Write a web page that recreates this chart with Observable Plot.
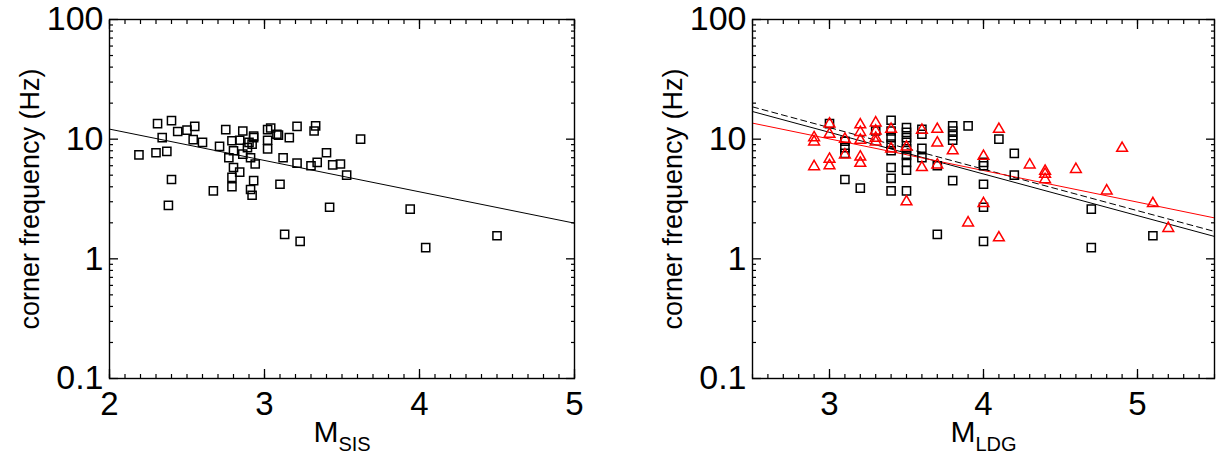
<!DOCTYPE html>
<html><head><meta charset="utf-8">
<script src="https://cdn.jsdelivr.net/npm/d3@7"></script>
<script src="https://cdn.jsdelivr.net/npm/@observablehq/plot@0.6"></script>
<style>
body{margin:0;background:#fff;}
#wrap{display:flex;width:1226px;height:463px;}
</style></head><body><div id="wrap"></div>
<script>
// Left panel: magnitude M_SIS vs corner frequency (Hz)
const sisM = [2.19,2.30,2.31,2.34,2.37,2.40,2.40,2.38,2.44,2.50,2.54,2.55,2.60,2.67,2.71,2.75,2.77,2.79,2.79,2.79,2.80,2.80,2.84,2.84,2.86,2.86,2.89,2.90,2.91,2.91,2.92,2.92,2.93,2.93,2.93,2.94,3.02,3.02,3.02,3.04,3.08,3.09,3.10,3.12,3.13,3.16,3.21,3.21,3.23,3.30,3.32,3.33,3.34,3.40,3.42,3.44,3.49,3.53,3.62,3.94,4.04,4.50];
const sisF = [7.4,7.7,13.5,10.3,7.9,14.3,4.6,2.8,11.6,11.9,9.9,12.8,9.4,3.7,8.7,12.0,7.0,9.7,4.8,4.0,8.0,5.8,9.8,5.3,11.7,7.5,8.5,9.4,7.0,3.8,9.1,3.4,10.3,4.5,10.6,6.2,12.0,9.8,8.3,12.4,11.0,10.8,4.2,7.0,1.6,10.3,12.8,6.3,1.4,6.0,11.7,12.9,6.4,7.7,2.7,6.1,6.2,5.0,10.0,2.6,1.24,1.56];

// Right panel, black squares: M_LDG vs corner frequency
const ldgM = [3.0,3.1,3.1,3.1,3.1,3.2,3.3,3.4,3.4,3.4,3.4,3.4,3.4,3.4,3.4,3.5,3.5,3.5,3.5,3.5,3.5,3.5,3.5,3.5,3.6,3.6,3.6,3.6,3.7,3.7,3.8,3.8,3.8,3.8,3.8,3.9,4.0,4.0,4.0,4.0,4.0,4.1,4.2,4.2,4.7,4.7,5.1];
const ldgF = [13.5,9.6,8.5,7.6,4.6,3.9,11.7,14.4,11.7,10.3,9.1,8.0,5.8,4.7,3.7,12.5,11.4,10.3,9.4,8.3,7.3,6.4,5.5,3.7,12.1,11.0,8.4,7.0,6.0,1.6,12.9,11.7,10.7,9.8,4.5,12.9,6.4,6.0,4.2,2.7,1.4,10.0,7.6,5.0,2.6,1.24,1.56];

// Right panel, red triangles
const redM = [2.9,2.9,2.9,3.0,3.0,3.0,3.0,3.1,3.1,3.2,3.2,3.2,3.2,3.2,3.3,3.3,3.3,3.3,3.4,3.4,3.5,3.5,3.6,3.6,3.7,3.7,3.7,3.8,3.9,4.0,4.0,4.1,4.1,4.3,4.4,4.4,4.4,4.6,4.8,4.9,5.1,5.2];
const redF = [10.3,9.5,5.9,13.4,11.0,6.8,6.0,10.0,7.4,13.2,11.4,9.8,7.1,6.3,13.7,11.7,10.2,9.5,12.1,8.3,8.6,3.0,11.9,5.8,12.1,9.3,6.1,8.0,2.0,7.2,2.9,12.1,1.5,6.1,5.4,5.1,4.6,5.6,3.7,8.4,2.9,1.8];

// Fit lines: log10(f) = a + b*M
const fitSIS = {a: 1.608, b: -0.262};
const fitLDGsolid = {a: 2.101, b: -0.348};
const fitLDGdashed = {a: 2.1375, b: -0.347};
const fitRed = {a: 1.794, b: -0.264};

// Axes
const yTicks = [0.1, 1, 10, 100];
const yTickLabels = ["0.1", "1", "10", "100"];
const yMinor = [0.1,1,10].flatMap(d => [2,3,4,5,6,7,8,9].map(k => +(d*k).toPrecision(3)));
const xTicksLeft = [2, 3, 4, 5];
const xTicksRight = [3, 4, 5];
const xDomainLeft = [2, 5];
const xDomainRight = [2.5, 5.5];

const FONT = "'Liberation Sans', Arial, Helvetica, sans-serif";

function minorX(domain) {
  const out = [];
  for (let i = Math.round(domain[0]*10); i <= Math.round(domain[1]*10); i++) out.push(i/10);
  return out;
}
function rows(M, F) { return M.map((m, i) => ({m, f: F[i]})); }
function fitRows(fit, domain) { return domain.map(m => ({m, f: Math.pow(10, fit.a + fit.b*m)})); }

function panel({xDomain, xMajor, sub, subWidth, ml, mr, extra}) {
  const mW = 0.833 * 30;
  const split = (mW - subWidth) / 2;
  return Plot.plot({
    width: 613, height: 463,
    marginLeft: ml, marginRight: mr, marginTop: 19, marginBottom: 85,
    style: {fontFamily: FONT, fontSize: "24px", color: "black", background: "white", overflow: "visible"},
    x: {domain: xDomain},
    y: {type: "log", domain: [0.1, 100]},
    marks: [
      ...extra,
      Plot.frame({stroke: "black", strokeWidth: 1.4}),
      // inward ticks
      Plot.axisX(xMajor, {anchor: "bottom", tickSize: -9, fill: "none", label: null, strokeWidth: 1.3}),
      Plot.axisX(minorX(xDomain), {anchor: "bottom", tickSize: -4, fill: "none", label: null, strokeWidth: 1.2}),
      Plot.axisX(xMajor, {anchor: "top", tickSize: -9, fill: "none", label: null, strokeWidth: 1.3}),
      Plot.axisX(minorX(xDomain), {anchor: "top", tickSize: -4, fill: "none", label: null, strokeWidth: 1.2}),
      Plot.axisY(yTicks, {anchor: "left", tickSize: -9, fill: "none", label: null, strokeWidth: 1.3}),
      Plot.axisY(yMinor, {anchor: "left", tickSize: -4, fill: "none", label: null, strokeWidth: 1.2}),
      Plot.axisY(yTicks, {anchor: "right", tickSize: -9, fill: "none", label: null, strokeWidth: 1.3}),
      Plot.axisY(yMinor, {anchor: "right", tickSize: -4, fill: "none", label: null, strokeWidth: 1.2}),
      // tick labels
      Plot.axisX(xMajor, {anchor: "bottom", tickSize: 0, tickPadding: 13, label: null, fontSize: 33, tickFormat: d => String(d)}),
      Plot.axisY(yTicks, {anchor: "left", tickSize: 0, tickPadding: 6, label: null, fontSize: 34,
        tickFormat: d => yTickLabels[yTicks.indexOf(d)]}),
      // axis titles
      Plot.text(["corner frequency (Hz)"], {frameAnchor: "left", textAnchor: "middle", rotate: -90, dx: -79, fontSize: 27, fill: "black"}),
      Plot.text(["M"], {frameAnchor: "bottom", textAnchor: "end", dx: split, dy: 63, fontSize: 30, fill: "black"}),
      Plot.text([sub], {frameAnchor: "bottom", textAnchor: "start", dx: split, dy: 72, fontSize: 20, fill: "black"})
    ]
  });
}

const left = panel({
  xDomain: xDomainLeft, xMajor: xTicksLeft, sub: "SIS", subWidth: 1.611 * 20, ml: 109, mr: 39,
  extra: [
    Plot.line(fitRows(fitSIS, xDomainLeft), {x: "m", y: "f", stroke: "black", strokeWidth: 1}),
    Plot.dot(rows(sisM, sisF), {x: "m", y: "f", symbol: "square", r: 4.6, stroke: "black", strokeWidth: 1.5, fill: "none"})
  ]
});

const right = panel({
  xDomain: xDomainRight, xMajor: xTicksRight, sub: "LDG", subWidth: 2.056 * 20, ml: 139, mr: 12,
  extra: [
    Plot.line(fitRows(fitLDGsolid, xDomainRight), {x: "m", y: "f", stroke: "black", strokeWidth: 1}),
    Plot.line(fitRows(fitLDGdashed, xDomainRight), {x: "m", y: "f", stroke: "black", strokeWidth: 1, strokeDasharray: "6,4"}),
    Plot.line(fitRows(fitRed, xDomainRight), {x: "m", y: "f", stroke: "red", strokeWidth: 1}),
    Plot.dot(rows(ldgM, ldgF), {x: "m", y: "f", symbol: "square", r: 4.6, stroke: "black", strokeWidth: 1.5, fill: "none"}),
    Plot.dot(rows(redM, redF), {x: "m", y: "f", symbol: "triangle", r: 4, stroke: "red", strokeWidth: 1.5, fill: "none"})
  ]
});

document.getElementById("wrap").append(left, right);
</script></body></html>
